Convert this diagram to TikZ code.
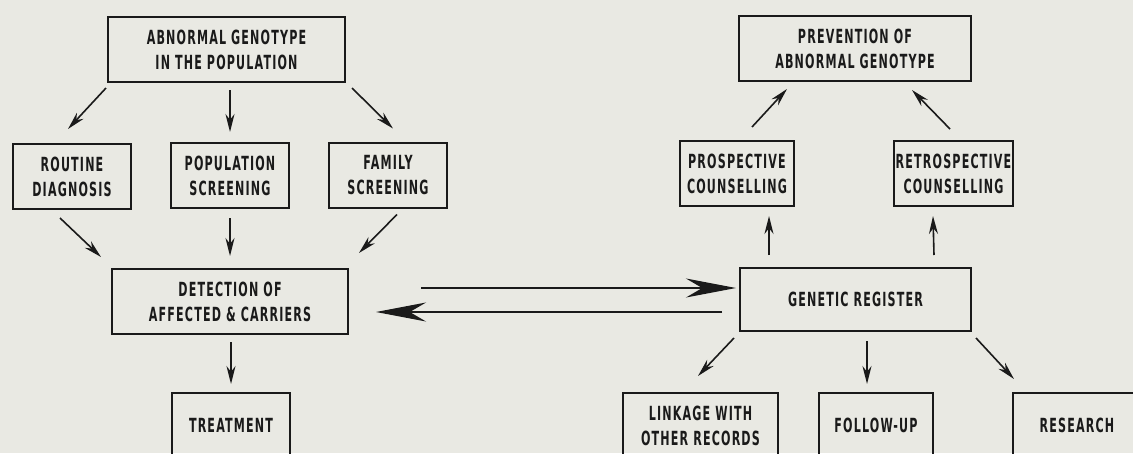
\documentclass[tikz,border=0pt]{standalone}
\usepackage{fontspec}
\newfontfamily\boxfont{DejaVu Sans}[FakeStretch=0.57,LetterSpace=6]
\usetikzlibrary{arrows.meta,positioning,calc}
\definecolor{paper}{HTML}{E9E9E3}
\definecolor{ink}{HTML}{1A1A1A}

\begin{document}
\begin{tikzpicture}[x=1pt, y=-1pt, >={Stealth[length=18pt,width=9pt]},
	box/.style={draw=ink, line width=2pt, text=ink, align=center, minimum height=65pt, inner sep=0pt, font=\boxfont\bfseries\fontsize{19.5}{25}\selectfont},
	link/.style={->, draw=ink, line width=1.6pt},
	bigarrow/.style={-{Stealth[length=50pt,width=19pt]}, draw=ink, line width=2pt}]
	  \useasboundingbox (0,0) rectangle (1133,453);
	  \clip (0,0) rectangle (1133,453);
	  \fill[paper] (0,0) rectangle (1133,453);
	  % left half
	  \node[box, minimum width=237pt] (abn) at (226.5,49.5) {ABNORMAL GENOTYPE\\IN THE POPULATION};
	  \node[box, minimum width=118pt] (routine) at (72,176.5) {ROUTINE\\DIAGNOSIS};
	  \node[box, minimum width=118pt] (popscr) at (230,175.5) {POPULATION\\SCREENING};
	  \node[box, minimum width=118pt] (famscr) at (388,175) {FAMILY\\SCREENING};
	  \node[box, minimum width=236pt] (detect) at (230,301.5) {DETECTION OF\\AFFECTED \& CARRIERS};
	  \node[box, minimum width=118pt] (treat) at (231,425.5) {TREATMENT};
	  % right half
	  \node[box, minimum width=232pt] (prevent) at (855,48.5) {PREVENTION OF\\ABNORMAL GENOTYPE};
	  \node[box, minimum width=114pt] (prosp) at (737,173.5) {PROSPECTIVE\\COUNSELLING};
	  \node[box, minimum width=119pt] (retro) at (953.5,173.5) {RETROSPECTIVE\\COUNSELLING};
	  \node[box, minimum width=231pt, minimum height=63pt] (genreg) at (855.5,299.5) {GENETIC REGISTER};
	  \node[box, minimum width=155pt] (linkage) at (700.5,425.5) {LINKAGE WITH\\OTHER RECORDS};
	  \node[box, minimum width=114pt] (follow) at (876,425.5) {FOLLOW-UP};
	  \node[box, minimum width=128pt] (research) at (1077,425.5) {RESEARCH};
	  % arrows
	  \draw[link] ([shift={(-1,5)}]abn.south west) -- ([shift={(-4,-14)}]routine.north);
	  \draw[link, shorten <=7pt, shorten >=10pt] (abn.south -| popscr) -- (popscr.north);
	  \draw[link] ([shift={(6,5)}]abn.south east) -- ([shift={(5,-13)}]famscr.north);
	  \draw[link] ([shift={(-12,8)}]routine.south) -- ([shift={(-10,-11)}]detect.north west);
	  \draw[link, shorten <=9pt, shorten >=12pt] (popscr.south) -- (popscr.south |- detect.north);
	  \draw[link] ([shift={(9,6)}]famscr.south) -- ([shift={(10,-15)}]detect.north east);
	  \draw[link, shorten <=7pt, shorten >=8pt] (detect.south -| treat) -- (treat.north);
	  \draw[bigarrow] ([shift={(72,-13.5)}]detect.east) -- ([shift={(-3,-11.5)}]genreg.west);
	  \draw[bigarrow] ([shift={(-17,12.5)}]genreg.west) -- ([shift={(27,10.5)}]detect.east);
	  \draw[link] ([shift={(30,-12)}]genreg.north west) -- ([shift={(32,9)}]prosp.south);
	  \draw[link] ([shift={(-38,-12)}]genreg.north east) -- ([shift={(-20.5,9)}]retro.south);
	  \draw[link] ([shift={(15,-13)}]prosp.north) -- ([shift={(49,7)}]prevent.south west);
	  \draw[link] ([shift={(-3.5,-11)}]retro.north) -- ([shift={(-60,8)}]prevent.south east);
	  \draw[link] ([shift={(-5,6)}]genreg.south west) -- ([shift={(-2.5,-16)}]linkage.north);
	  \draw[link] ([shift={(11.5,9)}]genreg.south) -- ([shift={(-9,-8)}]follow.north);
	  \draw[link] ([shift={(4,6)}]genreg.south east) -- ([shift={(2,-13)}]research.north west);
	\end{tikzpicture}
\end{document}
